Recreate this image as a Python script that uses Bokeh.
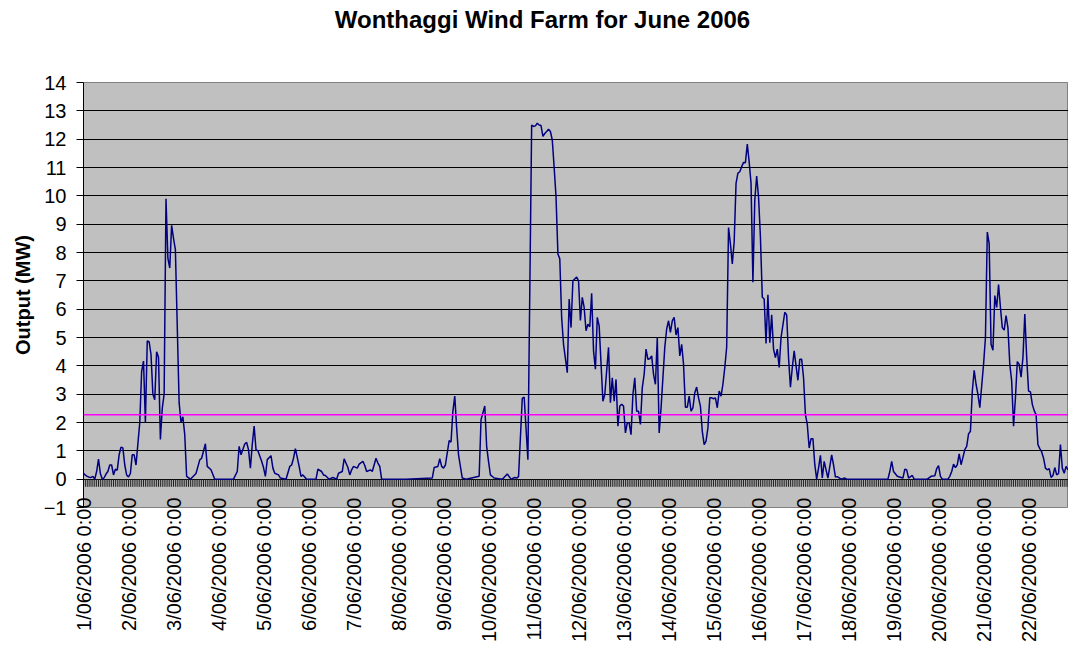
import math
from bokeh.plotting import figure
from bokeh.models import Range1d, FixedTicker, Span, Label
from bokeh.embed import file_html
from bokeh.resources import INLINE

# Hour index from 1/06/2006 0:00 and output (MW)
hour_index = [
    0, 1, 2, 3, 4, 5, 6, 7, 8, 9, 10, 11, 12, 13, 14, 15, 16, 17, 18, 19,
    20, 21, 22, 23, 24, 25, 26, 27, 28, 30, 31, 32, 33, 34, 35, 36, 37, 38, 39, 40,
    41, 42, 43, 44, 45, 46, 47, 48, 49, 51, 52, 53, 54, 55, 57, 60, 62, 63, 65, 66,
    68, 70, 80, 82, 83, 84, 86, 87, 88, 89, 90, 91, 92, 93, 95, 96, 97, 98, 100, 101,
    102, 104, 105, 108, 110, 111, 112, 113, 115, 116, 117, 119, 124, 125, 127, 128, 129, 131, 133, 135,
    136, 138, 139, 141, 142, 143, 144, 146, 147, 149, 150, 151, 153, 154, 156, 157, 158, 159, 172, 186,
    187, 189, 190, 191, 192, 193, 195, 196, 197, 198, 199, 200, 202, 204, 211, 212, 214, 215, 216, 217,
    219, 223, 224, 226, 228, 230, 231, 232, 234, 235, 237, 239, 240, 241, 242, 243, 244, 245, 246, 247,
    248, 249, 250, 251, 252, 253, 254, 255, 256, 258, 259, 260, 261, 263, 264, 265, 266, 267, 268, 269,
    270, 271, 272, 273, 274, 275, 277, 278, 280, 281, 282, 283, 284, 285, 286, 287, 288, 289, 290, 291,
    292, 293, 294, 295, 296, 297, 298, 299, 300, 301, 302, 303, 304, 305, 306, 307, 308, 309, 310, 311,
    312, 313, 314, 315, 316, 317, 318, 319, 320, 321, 322, 323, 324, 325, 326, 327, 328, 329, 330, 331,
    332, 333, 334, 335, 336, 337, 338, 339, 340, 341, 342, 343, 344, 345, 346, 347, 348, 349, 350, 351,
    352, 353, 354, 355, 356, 357, 358, 359, 360, 361, 362, 363, 364, 365, 366, 367, 368, 369, 370, 371,
    372, 374, 375, 376, 377, 378, 379, 380, 381, 382, 383, 384, 385, 386, 387, 388, 389, 390, 391, 392,
    393, 394, 395, 396, 397, 399, 400, 401, 402, 404, 406, 407, 429, 430, 431, 432, 434, 436, 437, 438,
    439, 440, 442, 443, 450, 452, 454, 455, 456, 457, 458, 461, 462, 463, 464, 465, 466, 467, 468, 469,
    470, 471, 472, 473, 474, 475, 476, 477, 478, 479, 480, 481, 482, 483, 484, 485, 486, 487, 488, 489,
    490, 491, 492, 493, 494, 495, 496, 497, 498, 499, 500, 501, 502, 503, 504, 505, 506, 507, 508, 509,
    510, 511, 512, 513, 514, 515, 516, 517, 518, 519, 520, 521, 522, 523, 524, 525,
]
output_mw = [
    0.21, 0.14, 0.10, 0.07, 0.06, 0.10, 0.00, 0.27, 0.71, 0.20, 0.00, 0.05, 0.18, 0.27, 0.50, 0.50, 0.15, 0.35, 0.32, 0.86,
    1.13, 1.10, 0.50, 0.15, 0.08, 0.20, 0.86, 0.86, 0.50, 1.99, 3.80, 4.17, 2.00, 4.88, 4.85, 4.40, 3.00, 2.80, 4.50, 4.30,
    1.40, 2.50, 3.00, 9.90, 7.80, 7.45, 8.96, 8.50, 8.10, 2.70, 2.00, 2.20, 1.57, 0.10, 0.00, 0.20, 0.68, 0.74, 1.25, 0.45,
    0.33, 0.00, 0.00, 0.27, 1.16, 0.86, 1.24, 1.30, 1.04, 0.39, 1.22, 1.87, 1.04, 1.00, 0.63, 0.41, 0.10, 0.69, 0.83, 0.39,
    0.21, 0.15, 0.04, 0.00, 0.45, 0.50, 0.74, 1.08, 0.45, 0.10, 0.15, 0.00, 0.00, 0.35, 0.27, 0.15, 0.13, 0.00, 0.06, 0.00,
    0.21, 0.27, 0.72, 0.41, 0.15, 0.33, 0.45, 0.39, 0.53, 0.63, 0.48, 0.27, 0.33, 0.27, 0.74, 0.57, 0.45, 0.00, 0.00, 0.04,
    0.41, 0.45, 0.72, 0.45, 0.39, 0.50, 1.36, 1.31, 2.40, 2.93, 1.81, 0.86, 0.04, 0.00, 0.10, 2.10, 2.58, 1.16, 0.63, 0.15,
    0.04, 0.00, 0.04, 0.18, 0.00, 0.06, 0.04, 0.09, 2.85, 2.90, 0.69, 12.50, 12.45, 12.47, 12.56, 12.50, 12.48, 12.10, 12.20, 12.27,
    12.35, 12.27, 11.97, 11.00, 9.96, 7.95, 7.78, 5.70, 4.76, 3.76, 6.36, 5.35, 7.00, 7.13, 7.00, 5.60, 6.42, 6.06, 5.24, 5.47,
    5.38, 6.56, 4.53, 3.88, 5.71, 5.41, 2.75, 2.99, 4.65, 2.70, 3.58, 2.75, 3.52, 1.87, 2.58, 2.64, 2.58, 1.63, 1.99, 1.99,
    1.57, 2.99, 3.58, 2.40, 2.40, 1.93, 3.23, 3.70, 4.59, 4.23, 4.25, 4.35, 3.70, 3.35, 5.00, 1.63, 2.50, 3.58, 4.65, 5.30,
    5.59, 5.18, 5.59, 5.71, 5.09, 5.35, 4.35, 4.76, 4.05, 2.54, 2.54, 2.93, 2.40, 2.52, 3.05, 3.25, 2.87, 2.58, 1.69, 1.22,
    1.34, 1.81, 2.87, 2.87, 2.84, 2.87, 2.52, 3.11, 2.93, 3.35, 3.94, 4.65, 8.88, 8.31, 7.60, 8.37, 10.44, 10.80, 10.85, 11.03,
    11.18, 11.17, 11.83, 11.20, 10.44, 6.95, 9.85, 10.70, 9.96, 8.55, 6.42, 6.36, 4.79, 6.51, 4.82, 5.80, 4.59, 4.29, 4.59, 3.94,
    5.00, 5.89, 5.80, 4.29, 3.25, 3.94, 4.53, 4.00, 3.49, 4.23, 4.23, 3.58, 2.28, 1.93, 1.10, 1.43, 1.43, 0.51, 0.00, 0.39,
    0.84, 0.04, 0.63, 0.33, 0.04, 0.86, 0.50, 0.08, 0.09, 0.00, 0.04, 0.00, 0.00, 0.27, 0.63, 0.27, 0.10, 0.06, 0.04, 0.35,
    0.33, 0.04, 0.13, 0.00, 0.00, 0.10, 0.12, 0.37, 0.48, 0.10, 0.00, 0.00, 0.10, 0.27, 0.53, 0.41, 0.51, 0.89, 0.51, 0.77,
    1.04, 1.16, 1.60, 1.69, 3.11, 3.84, 3.35, 2.99, 2.52, 3.29, 4.05, 5.00, 8.72, 8.31, 4.76, 4.55, 6.48, 6.06, 6.87, 6.06,
    5.35, 5.26, 5.77, 5.35, 4.05, 3.46, 1.87, 2.87, 4.15, 4.05, 3.60, 4.29, 5.83, 4.29, 3.11, 3.08, 2.64, 2.42, 2.28, 1.22,
    1.08, 0.96, 0.74, 0.39, 0.33, 0.37, 0.06, 0.13, 0.41, 0.15, 0.20, 1.22, 0.39, 0.21, 0.45, 0.33,
]
label_hours = [0, 24, 48, 72, 96, 120, 144, 168, 192, 216, 240,
               264, 288, 312, 336, 360, 384, 408, 432, 456, 480, 504]
day_labels = ["1/06/2006 0:00", "2/06/2006 0:00", "3/06/2006 0:00", "4/06/2006 0:00",
              "5/06/2006 0:00", "6/06/2006 0:00", "7/06/2006 0:00", "8/06/2006 0:00",
              "9/06/2006 0:00", "10/06/2006 0:00", "11/06/2006 0:00", "12/06/2006 0:00",
              "13/06/2006 0:00", "14/06/2006 0:00", "15/06/2006 0:00", "16/06/2006 0:00",
              "17/06/2006 0:00", "18/06/2006 0:00", "19/06/2006 0:00", "20/06/2006 0:00",
              "21/06/2006 0:00", "22/06/2006 0:00"]
y_ticks = list(range(-1, 15))
average_mw = 2.27
n_hours = 526
title_text = "Wonthaggi Wind Farm for June 2006"

FONT = "Liberation Sans"

p = figure(width=1068, height=647, output_backend="svg", toolbar_location=None,
           x_range=Range1d(0, 525.3), y_range=Range1d(-1, 14),
           min_border_left=83, min_border_right=0, min_border_top=82,
           min_border_bottom=140)

p.background_fill_color = "#C0C0C0"
p.border_fill_color = "white"
p.outline_line_color = "#808080"
p.outline_line_width = 1

# chart title as a label in the panel above the plot area
p.add_layout(Label(x=459, y=63, x_units="screen", y_units="screen",
                   text=title_text, text_font=FONT, text_font_size="24px",
                   text_font_style="bold", text_color="black",
                   text_align="center", text_baseline="alphabetic"), "above")

# y axis
p.yaxis.ticker = FixedTicker(ticks=y_ticks)
p.yaxis.axis_label = "Output (MW)"
p.yaxis.axis_label_text_font = FONT
p.yaxis.axis_label_text_font_size = "20px"
p.yaxis.axis_label_text_font_style = "bold"
p.yaxis.axis_label_text_color = "black"
p.yaxis.axis_label_standoff = 7
p.yaxis.major_label_text_font = FONT
p.yaxis.major_label_text_font_size = "20px"
p.yaxis.major_label_text_color = "black"
p.yaxis.major_label_standoff = 10
p.yaxis.major_tick_out = 7
p.yaxis.major_tick_in = 0
p.yaxis.minor_tick_out = 0
p.yaxis.minor_tick_in = 0
p.yaxis.axis_line_color = "black"
p.yaxis.major_tick_line_color = "black"

# x axis (day labels)
p.xaxis.ticker = FixedTicker(ticks=label_hours)
p.xaxis.major_label_overrides = dict(zip(label_hours, day_labels))
p.xaxis.major_label_orientation = math.pi / 2
p.xaxis.major_label_text_font = FONT
p.xaxis.major_label_text_font_size = "20px"
p.xaxis.major_label_text_color = "black"
p.xaxis.major_label_standoff = -10
p.xaxis.major_tick_out = 0
p.xaxis.major_tick_in = 0
p.xaxis.minor_tick_out = 0
p.xaxis.minor_tick_in = 0
p.xaxis.axis_line_color = None

# grid
p.xgrid.visible = False
p.ygrid.ticker = FixedTicker(ticks=list(range(0, 14)))
p.ygrid.grid_line_color = "black"
p.ygrid.grid_line_width = 1

# hourly category tick marks along y = 0
tick_hours = list(range(n_hours))
p.segment(x0=tick_hours, y0=[0] * n_hours, x1=tick_hours, y1=[-0.27] * n_hours,
          line_color="#202020", line_width=1)

p.line(hour_index, output_mw, line_color="#000080", line_width=1.5)

p.add_layout(Span(location=average_mw, dimension="width",
                  line_color="#FF00FF", line_width=1.5))

open("out.html", "w").write(file_html(p, INLINE))
